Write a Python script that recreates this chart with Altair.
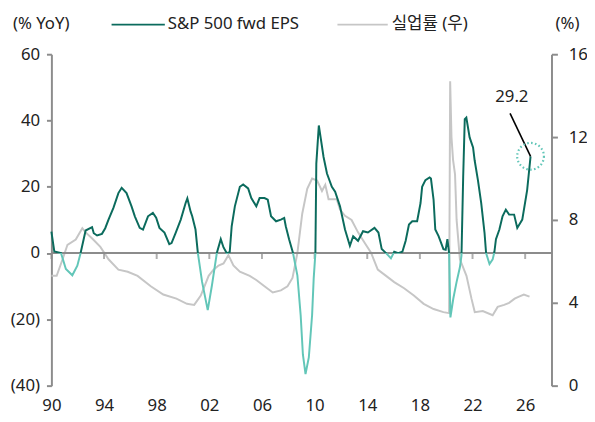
import altair as alt
import pandas as pd

# ---------------- data ----------------
eps_year = [1990.00, 1990.22, 1990.73, 1991.10, 1991.59, 1991.97, 1992.22, 1992.60, 1993.09, 1993.22,
            1993.47, 1993.84, 1994.09, 1994.34, 1994.72, 1995.09, 1995.34, 1995.71, 1996.09, 1996.34,
            1996.71, 1996.96, 1997.34, 1997.71, 1997.96, 1998.21, 1998.59, 1998.96, 1999.13, 1999.45,
            1999.83, 2000.20, 2000.33, 2000.58, 2000.70, 2000.95, 2001.13, 2001.45, 2001.88, 2002.20,
            2002.57, 2002.87, 2003.08, 2003.32, 2003.55, 2003.70, 2003.94, 2004.32, 2004.57, 2004.95,
            2005.19, 2005.57, 2005.82, 2006.19, 2006.44, 2006.69, 2007.07, 2007.44, 2007.69, 2007.81,
            2008.06, 2008.36, 2008.69, 2008.94, 2009.11, 2009.31, 2009.56, 2009.81, 2009.93, 2010.06,
            2010.13, 2010.32, 2010.68, 2010.94, 2011.31, 2011.56, 2011.93, 2012.31, 2012.68, 2012.93,
            2013.30, 2013.68, 2014.05, 2014.55, 2014.85, 2015.10, 2015.43, 2015.80, 2016.05, 2016.35,
            2016.67, 2016.92, 2017.17, 2017.42, 2017.79, 2018.05, 2018.17, 2018.42, 2018.74, 2018.84,
            2019.04, 2019.17, 2019.42, 2019.79, 2019.96, 2020.09, 2020.22, 2020.32, 2020.54, 2020.79,
            2021.04, 2021.16, 2021.29, 2021.41, 2021.53, 2021.78, 2022.04, 2022.16, 2022.41, 2022.66,
            2022.91, 2023.03, 2023.29, 2023.53, 2023.66, 2023.78, 2024.04, 2024.28, 2024.53, 2024.78,
            2025.16, 2025.40, 2025.78, 2026.15, 2026.41]
eps_val = [6.5, 0.5, 0.0, -4.8, -6.7, -3.8, 0.0, 6.8, 7.8, 6.0,
           5.3, 5.8, 7.5, 10.1, 13.7, 18.1, 19.7, 18.1, 14.1, 11.1,
           7.6, 7.1, 11.1, 12.1, 10.7, 7.6, 6.2, 2.7, 3.0, 6.2,
           10.1, 15.1, 16.5, 12.5, 11.1, 7.1, 0.0, -8.7, -17.2, -9.7,
           0.0, 4.2, 1.7, 0.0, 0.3, 8.1, 14.1, 20.0, 20.7, 19.5,
           16.6, 14.1, 16.6, 16.6, 16.1, 11.1, 9.6, 10.1, 10.6, 8.1,
           4.2, 0.0, -6.7, -18.7, -30.6, -36.5, -31.5, -18.7, -7.7, 0.0,
           27.0, 38.5, 29.0, 24.0, 20.0, 18.5, 14.1, 7.1, 2.2, 5.1,
           3.7, 6.6, 6.2, 7.6, 6.2, 1.2, 0.0, -1.6, 0.4, 0.0,
           0.4, 3.7, 8.6, 9.6, 9.6, 15.1, 20.0, 22.0, 22.8, 22.5,
           16.1, 7.1, 5.1, 1.2, 1.0, 4.2, 0.0, -19.4, -13.7, -8.7,
           -4.3, -0.8, 23.0, 40.4, 40.9, 34.9, 31.9, 28.0, 22.0, 15.1,
           6.2, 0.0, -3.3, -1.9, 0.3, 4.2, 7.1, 11.1, 13.1, 11.6,
           11.6, 7.6, 10.1, 19.0, 29.2]

ue_year = [1990.00, 1990.40, 1990.85, 1991.22, 1991.85, 1992.35, 1992.60, 1993.10, 1993.72, 1994.34,
           1995.09, 1995.80, 1996.55, 1997.55, 1998.50, 1999.50, 2000.30, 2000.85, 2001.35, 2001.95,
           2002.32, 2002.70, 2003.08, 2003.45, 2003.83, 2004.32, 2005.07, 2005.57, 2006.19, 2006.82,
           2007.44, 2007.94, 2008.32, 2008.69, 2009.06, 2009.44, 2009.81, 2010.19, 2010.56, 2010.81,
           2011.06, 2011.68, 2011.93, 2012.31, 2012.81, 2013.30, 2013.80, 2014.30, 2014.80, 2015.43,
           2016.05, 2016.80, 2017.54, 2018.29, 2019.04, 2019.79, 2020.22, 2020.30, 2020.40, 2020.52,
           2020.67, 2020.79, 2021.04, 2021.54, 2021.92, 2022.17, 2022.78, 2023.53, 2023.91, 2024.40,
           2024.78, 2025.20, 2025.53, 2025.90, 2026.33]
ue_val = [5.3, 5.3, 6.1, 6.8, 7.05, 7.6, 7.4, 7.1, 6.7, 6.1,
          5.6, 5.5, 5.3, 4.8, 4.4, 4.2, 3.95, 3.9, 4.35, 5.3,
          5.6, 5.8, 5.9, 6.3, 5.8, 5.5, 5.3, 5.1, 4.8, 4.5,
          4.6, 4.8, 5.2, 6.4, 8.3, 9.5, 10.0, 9.9, 9.4, 9.7,
          9.0, 9.0, 8.5, 8.2, 8.0, 7.4, 6.9, 6.4, 5.6, 5.3,
          5.0, 4.7, 4.35, 3.95, 3.7, 3.55, 3.5, 14.7, 12.0, 10.9,
          10.2, 8.0, 6.1, 5.3, 4.2, 3.55, 3.6, 3.4, 3.8, 3.9,
          4.0, 4.2, 4.3, 4.4, 4.3]

x_ticks = [1990, 1994, 1998, 2002, 2006, 2010, 2014, 2018, 2022, 2026]
left_ticks = [-40, -20, 0, 20, 40, 60]
right_ticks = [0, 4, 8, 12, 16]

eps_name = "S&P 500 fwd EPS"
ue_name = "실업률 (우)"
left_title = "(% YoY)"
right_title = "(%)"

# ---------------- styling ----------------
DARK = "#0b6b5d"
LIGHT = "#62c6b8"
GREY = "#c6c6c6"
AXIS = "#8c8c8c"
TXT = "#222222"
FONT = "Noto Sans, Noto Sans CJK KR, sans-serif"
FS = 17

eps_df = pd.DataFrame({"year": eps_year, "eps": eps_val})
ue_df = pd.DataFrame({"year": ue_year, "ue": ue_val})
tick_df = pd.DataFrame({"year": x_ticks, "z": [0] * len(x_ticks)})
zero_df = pd.DataFrame({"year": [1990], "z": [0]})
last_df = eps_df.tail(1)

x_scale = alt.Scale(domain=[1990, 2028], nice=False, zero=False)
eps_scale = alt.Scale(domain=[-40, 60], nice=False, zero=False)
ue_scale = alt.Scale(domain=[0, 16], nice=False, zero=False)

# gradient: dark above zero, light below zero (stop at the zero fraction of the line's bbox)
ymax, ymin = max(eps_val), min(eps_val)
frac = ymax / (ymax - ymin)
eps_grad = alt.Gradient(
    gradient="linear", x1=0, y1=0, x2=0, y2=1,
    stops=[alt.GradientStop(offset=0, color=DARK),
           alt.GradientStop(offset=frac, color=DARK),
           alt.GradientStop(offset=frac, color=LIGHT),
           alt.GradientStop(offset=1, color=LIGHT)])

x_axis = alt.Axis(values=x_ticks, labelExpr="(datum.value % 100 < 10 ? '0' : '') + (datum.value % 100)",
                  domain=False, ticks=False, grid=False, labelFlush=False, labelFont=FONT,
                  labelFontSize=FS, labelColor=TXT, labelPadding=12, title=None)
left_axis = alt.Axis(values=left_ticks,
                     labelExpr="datum.value < 0 ? '(' + abs(datum.value) + ')' : datum.label",
                     grid=False, domainColor=AXIS, domainWidth=2, tickColor=AXIS, tickWidth=2,
                     tickSize=5, labelFont=FONT, labelFontSize=FS, labelColor=TXT, labelPadding=7,
                     title=None)
right_axis = alt.Axis(values=right_ticks, orient="right", grid=False, domainColor=AXIS, domainWidth=2,
                      tickColor=AXIS, tickWidth=2, tickSize=6, labelFont=FONT, labelFontSize=FS,
                      labelColor=TXT, labelPadding=11, title=None)

X = alt.X("year:Q", scale=x_scale, axis=x_axis)


def Yeps(field):
    return alt.Y(field, scale=eps_scale, axis=left_axis)


ue_line = alt.Chart(ue_df).mark_line(color=GREY, strokeWidth=2).encode(
    x=X,
    y=alt.Y("ue:Q", scale=ue_scale, axis=right_axis),
)

zero_rule = alt.Chart(zero_df).mark_rule(color=AXIS, strokeWidth=2).encode(y=Yeps("z:Q"))

x_tick_marks = alt.Chart(tick_df).mark_tick(orient="vertical", size=6, thickness=2, yOffset=3,
                                            color=AXIS).encode(x=X, y=Yeps("z:Q"))

eps_line = alt.Chart(eps_df).mark_line(color=eps_grad, strokeWidth=2).encode(x=X, y=Yeps("eps:Q"))

circle = alt.Chart(last_df).mark_point(shape="circle", size=735, filled=False, stroke=LIGHT,
                                       strokeWidth=2.2, strokeDash=[1.6, 2.4], opacity=1).encode(
    x=X, y=Yeps("eps:Q"))

leader = alt.Chart(last_df).mark_rule(color="black", strokeWidth=1.6).encode(
    x=X, y=Yeps("eps:Q"), x2=alt.value(465), y2=alt.value(60))

label = alt.Chart(last_df).mark_text(font=FONT, fontSize=FS, color=TXT, dx=-19, dy=-60,
                                     baseline="middle").encode(
    x=X, y=Yeps("eps:Q"), text=alt.Text("eps:Q", format=".1f"))


# legend and axis titles (top row)
def top_text(s, px, align="left"):
    return alt.Chart(pd.DataFrame({"t": [s]})).mark_text(
        font=FONT, fontSize=FS, color=TXT, align=align, baseline="middle").encode(
        text="t:N", x=alt.value(px), y=alt.value(-31))


def legend_line(x0, x1, col):
    return alt.Chart(pd.DataFrame({"t": [0]})).mark_rule(color=col, strokeWidth=2).encode(
        x=alt.value(x0), x2=alt.value(x1), y=alt.value(-30))


eps_layer = alt.layer(
    zero_rule, x_tick_marks, eps_line, leader, circle, label,
    top_text(left_title, -39), top_text(right_title, 511),
    legend_line(61, 115, DARK), top_text(eps_name, 118),
    legend_line(290, 341, GREY), top_text(ue_name, 345),
)

chart = alt.layer(ue_line, eps_layer).resolve_scale(y="independent").properties(
    width=507, height=336,
    autosize=alt.AutoSizeParams(type="none"),
    padding={"left": 44, "top": 44, "right": 36, "bottom": 34},
    background="white",
).configure_view(stroke=None)

chart.save("out.html", embed_options={"renderer": "svg", "actions": False})
